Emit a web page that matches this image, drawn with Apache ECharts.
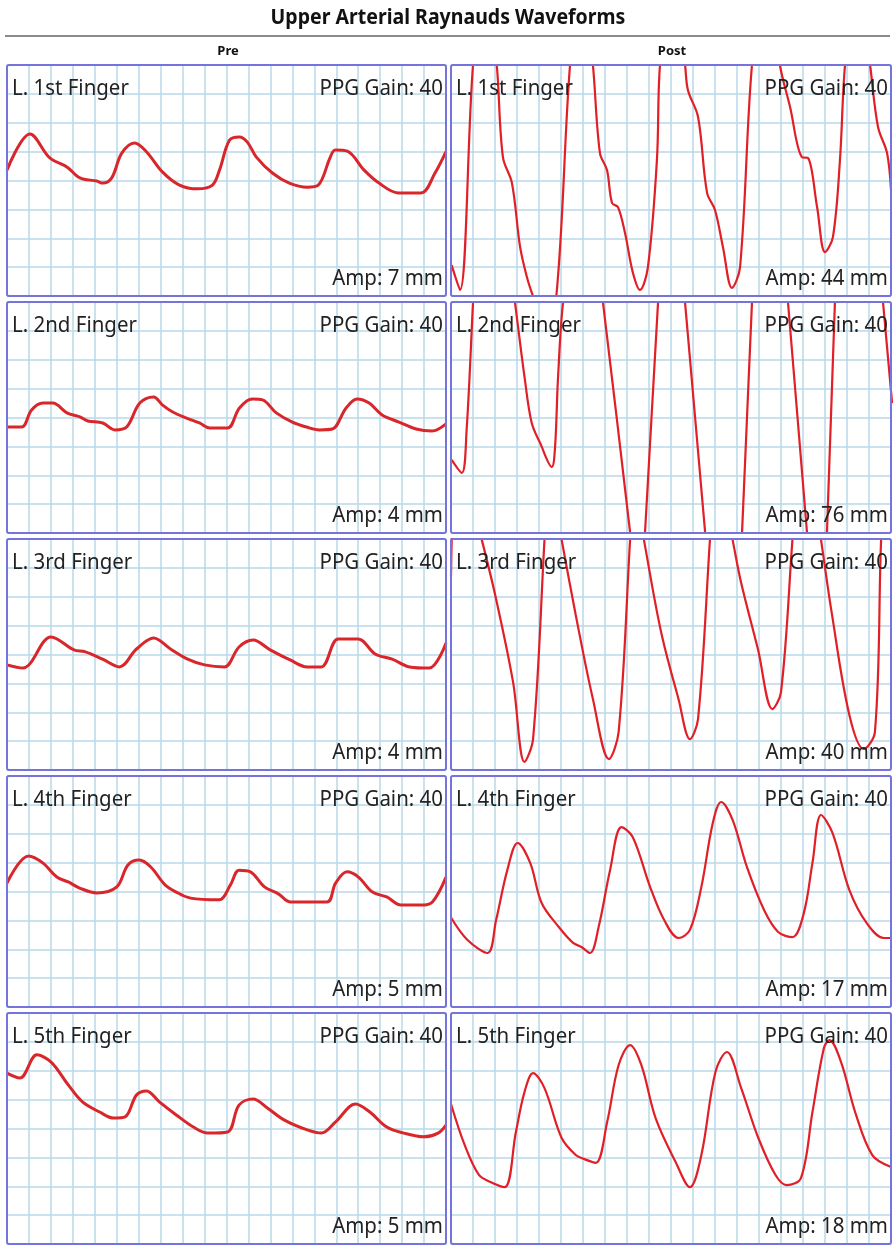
<!DOCTYPE html>
<html>
<head>
<meta charset="utf-8">
<title>Upper Arterial Raynauds Waveforms</title>
<script src="https://cdn.jsdelivr.net/npm/echarts@6/dist/echarts.min.js"></script>
<style>
  html, body { margin: 0; padding: 0; background: #fff; }
  #chart { width: 894px; height: 1245px; }
</style>
</head>
<body>
<div id="chart"></div>
<script>
// panel labels
const fingers = ["L. 1st Finger", "L. 2nd Finger", "L. 3rd Finger", "L. 4th Finger", "L. 5th Finger"];
const ampPre = [7, 4, 4, 5, 5];
const ampPost = [44, 76, 40, 17, 18];
const ppgGain = 40;

// waveforms, x in grid columns (0-20), y in grid rows (0-8, bottom = 0)
const pre1 = [[0,4.36],[1.05,5.61],[1.95,4.78],[2.73,4.47],[3.32,4.09],[4.09,3.98],[4.36,3.91],[4.77,4.09],[5.23,4.95],[5.82,5.3],[6.36,4.99],[7.09,4.29],[7.86,3.84],[8.68,3.71],[9.36,3.84],[9.68,4.36],[10.14,5.4],[10.59,5.51],[10.95,5.33],[11.36,4.81],[12.09,4.26],[12.86,3.91],[13.68,3.77],[14.18,3.84],[14.73,4.81],[14.95,5.06],[15.5,5.02],[16.27,4.36],[16.95,3.91],[17.82,3.57],[18.86,3.57],[19.5,4.26],[20,5.0]];
const post1 = [[0.03,1.07],[0.41,0.21],[1.0,8.0],[1.55,11.5],[2.08,8.0],[2.36,4.81],[2.77,3.91],[3.14,1.7],[3.45,0.66],[3.68,0.1],[4.3,-1.2],[4.8,0.1],[5.41,8.0],[5.95,11.5],[6.45,8.0],[6.77,4.95],[7.09,4.36],[7.32,3.22],[7.59,3.08],[7.91,2.18],[8.27,0.8],[8.59,0.21],[8.95,1.0],[9.36,4.71],[9.5,8.0],[10.05,11.5],[10.64,8.0],[10.77,7.13],[11.23,6.2],[11.64,3.57],[12.0,2.98],[12.36,1.7],[12.77,0.28],[13.14,1.0],[13.68,8.0],[14.3,11.5],[14.95,8.0],[15.41,6.55],[15.95,4.81],[16.23,4.78],[16.64,3.08],[17.0,1.52],[17.36,2.04],[17.68,4.71],[17.91,8.0],[18.45,11.5],[19.05,8.0],[19.41,5.85],[19.82,4.95],[20,3.67]];
const pre2 = [[0,3.67],[0.67,3.67],[1.12,4.26],[1.64,4.5],[2.09,4.5],[2.73,4.16],[3.32,4.02],[3.68,3.88],[4.36,3.81],[4.91,3.57],[5.45,3.67],[6.05,4.5],[6.68,4.71],[7.09,4.43],[7.55,4.19],[8.18,3.98],[8.77,3.81],[9.23,3.64],[10.05,3.64],[10.59,4.33],[11.18,4.64],[11.64,4.61],[12.27,4.16],[13.0,3.84],[13.64,3.67],[14.23,3.57],[14.82,3.6],[15.45,4.33],[15.95,4.64],[16.5,4.5],[17.09,4.09],[17.86,3.84],[18.64,3.6],[19.36,3.53],[20,3.78]];
const post2 = [[0.03,2.53],[0.49,2.08],[0.71,3.57],[1.0,7.97],[1.54,16],[2.91,7.97],[3.36,5.3],[3.67,3.81],[4.05,3.12],[4.58,2.29],[4.73,2.98],[4.86,5.3],[5.09,7.97],[6.0,13.5],[6.91,7.97],[8.14,0.03],[8.6,-3],[8.82,0.03],[9.41,7.97],[9.9,14.5],[10.64,7.97],[11.55,0.03],[12.67,-9.9],[13.23,0.03],[13.68,7.97],[14.24,17.8],[15.32,7.97],[16.18,0.03],[16.82,-5.9],[17.09,0.03],[17.45,7.97],[18.06,21.4],[19.64,7.97],[20.05,4.5]];
const pre3 = [[0,3.64],[0.72,3.53],[2.01,4.61],[3.05,4.16],[3.57,4.09],[4.35,3.84],[5.12,3.57],[5.9,4.19],[6.68,4.57],[7.45,4.19],[8.23,3.84],[9.0,3.64],[9.91,3.57],[10.57,4.26],[11.21,4.5],[11.99,4.16],[12.9,3.81],[13.68,3.57],[14.32,3.57],[15.09,4.54],[16.0,4.54],[16.77,4.02],[17.55,3.84],[18.34,3.57],[19.23,3.53],[20,4.4]];
const post3 = [[0,6.7],[0.35,11.0],[1.4,7.97],[2.05,5.92],[2.82,3.05],[3.34,0.28],[3.73,1.07],[4.25,7.97],[4.43,10.4],[5.03,7.97],[5.67,5.37],[6.45,2.46],[7.18,0.38],[7.62,1.32],[8.14,7.97],[8.3,10.0],[8.77,7.97],[9.55,4.78],[10.34,2.46],[10.86,1.07],[11.23,1.77],[11.77,7.97],[12.03,10.9],[12.8,7.97],[13.18,6.51],[13.95,4.19],[14.61,2.11],[15.0,2.7],[15.52,7.97],[15.96,12.4],[16.82,7.97],[17.32,5.37],[18.11,1.9],[18.76,0.73],[19.27,1.32],[19.55,7.97],[19.8,11.5]];
const pre4 = [[0,4.29],[0.98,5.23],[1.63,4.99],[2.27,4.5],[2.79,4.33],[3.31,4.12],[4.09,3.95],[5.0,4.16],[5.51,4.92],[6.03,5.09],[6.55,4.85],[7.2,4.23],[7.71,3.98],[8.36,3.77],[9.66,3.71],[10.18,4.23],[10.57,4.74],[11.09,4.68],[11.73,4.16],[12.38,3.91],[12.9,3.64],[14.58,3.64],[14.97,4.29],[15.49,4.68],[16.01,4.5],[16.65,3.98],[17.3,3.81],[17.95,3.53],[18.86,3.53],[19.38,3.64],[20,4.5]];
const post4 = [[0,3.1],[0.75,2.32],[1.66,1.87],[2.05,3.01],[2.56,4.74],[3.03,5.68],[3.6,4.99],[4.12,3.6],[4.9,2.77],[5.55,2.22],[5.93,2.08],[6.32,1.87],[6.71,2.77],[7.23,4.74],[7.75,6.23],[8.26,5.89],[9.05,4.16],[9.69,3.01],[10.34,2.39],[10.86,2.67],[11.38,4.16],[11.9,6.37],[12.28,7.1],[12.8,6.48],[13.45,4.85],[14.23,3.36],[14.87,2.6],[15.52,2.42],[16.04,3.26],[16.43,4.99],[16.82,6.65],[17.34,6.03],[18.11,4.05],[18.89,2.91],[19.67,2.39],[20,2.39]];
const pre5 = [[0,5.92],[0.59,5.75],[1.36,6.55],[2.01,6.3],[2.79,5.51],[3.44,4.92],[4.22,4.57],[4.86,4.36],[5.38,4.4],[5.9,5.16],[6.36,5.3],[6.94,4.92],[7.71,4.47],[8.49,4.05],[9.14,3.84],[10.05,3.88],[10.57,4.81],[11.21,5.02],[11.86,4.71],[12.64,4.29],[13.68,3.95],[14.32,3.84],[14.97,4.23],[15.88,4.85],[16.53,4.57],[17.3,4.05],[18.08,3.84],[18.99,3.71],[19.64,3.84],[20,4.12]];
const post5 = [[0,4.85],[0.62,3.43],[1.27,2.39],[1.79,2.15],[2.44,1.97],[2.95,3.88],[3.34,5.26],[3.73,5.92],[4.25,5.4],[5.03,3.67],[5.67,3.08],[6.06,2.94],[6.58,2.81],[7.1,4.23],[7.62,6.2],[8.14,6.89],[8.65,6.2],[9.3,4.36],[10.21,2.84],[10.86,1.97],[11.38,3.08],[12.02,5.96],[12.54,6.65],[13.19,5.4],[13.97,3.67],[14.75,2.39],[15.26,2.04],[15.91,2.29],[16.43,4.57],[16.95,6.79],[17.2,7.06],[17.73,6.3],[18.37,4.57],[19.15,3.08],[20,2.67]];

const preWaves = [pre1, pre2, pre3, pre4, pre5];
const postWaves = [post1, post2, post3, post4, post5];

const chart = echarts.init(document.getElementById("chart"));

const colLeft = [7, 451];
const colWidth = [439, 440];
const rowTop = [65, 302, 539, 776, 1013];
const panelH = 231;

const grids = [], xAxes = [], yAxes = [], series = [], graphics = [];
const fontFamily = "'Noto Sans', sans-serif";
const gridLine = { show: true, lineStyle: { color: "#b8d8e8", width: 1.5 } };

let idx = 0;
for (let r = 0; r < 5; r++) {
  for (let c = 0; c < 2; c++) {
    const left = colLeft[c], top = rowTop[r], w = colWidth[c];
    grids.push({ left: left, top: top, width: w, height: panelH });
    xAxes.push({
      gridIndex: idx, type: "value", min: 0, max: 20, interval: 1,
      axisLine: { show: false }, axisTick: { show: false }, axisLabel: { show: false },
      splitLine: gridLine
    });
    yAxes.push({
      gridIndex: idx, type: "value", min: 0, max: 8, interval: 1,
      axisLine: { show: false }, axisTick: { show: false }, axisLabel: { show: false },
      splitLine: gridLine
    });
    series.push({
      type: "line",
      xAxisIndex: idx, yAxisIndex: idx,
      data: c === 0 ? preWaves[r] : postWaves[r],
      showSymbol: false, smooth: 0.35, clip: true,
      lineStyle: { color: c === 0 ? "#d8262b" : "#e01f26", width: c === 0 ? 3 : 2.2 },
      z: 3
    });
    // panel frame on top of the grid lines
    graphics.push({
      type: "rect", z: 20,
      shape: { x: left, y: top, width: w, height: panelH, r: 2 },
      style: { fill: null, stroke: "#7474dc", lineWidth: 2 }
    });
    // texts
    graphics.push({
      type: "text", x: left + 5, y: top + 24, z: 10, scaleX: 0.93,
      style: { text: fingers[r], fontSize: 22, fontFamily: fontFamily, fill: "#222", align: "left", verticalAlign: "middle" }
    });
    graphics.push({
      type: "text", x: left + w - 3, y: top + 24, z: 10, scaleX: 0.93,
      style: { text: "PPG Gain: " + ppgGain, fontSize: 22, fontFamily: fontFamily, fill: "#222", align: "right", verticalAlign: "middle" }
    });
    graphics.push({
      type: "text", x: left + w - 3, y: top + panelH - 17, z: 10, scaleX: 0.93,
      style: { text: "Amp: " + (c === 0 ? ampPre[r] : ampPost[r]) + " mm", fontSize: 22, fontFamily: fontFamily, fill: "#222", align: "right", verticalAlign: "middle" }
    });
    idx++;
  }
}

// title, rule and column headers
graphics.push({
  type: "text", x: 448, y: 18, scaleX: 0.93,
  style: { text: "Upper Arterial Raynauds Waveforms", fontSize: 21, fontWeight: "bold", fontFamily: fontFamily, fill: "#111", align: "center", verticalAlign: "middle" }
});
graphics.push({
  type: "line", shape: { x1: 5, y1: 36, x2: 890, y2: 36 },
  style: { stroke: "#8a8a8a", lineWidth: 2 }
});
graphics.push({
  type: "text", x: 228, y: 51,
  style: { text: "Pre", fontSize: 13, fontWeight: "bold", fontFamily: fontFamily, fill: "#111", align: "center", verticalAlign: "middle" }
});
graphics.push({
  type: "text", x: 672, y: 51,
  style: { text: "Post", fontSize: 13, fontWeight: "bold", fontFamily: fontFamily, fill: "#111", align: "center", verticalAlign: "middle" }
});

chart.setOption({
  animation: false,
  backgroundColor: "#fff",
  grid: grids,
  xAxis: xAxes,
  yAxis: yAxes,
  series: series,
  graphic: graphics
});
</script>
</body>
</html>
